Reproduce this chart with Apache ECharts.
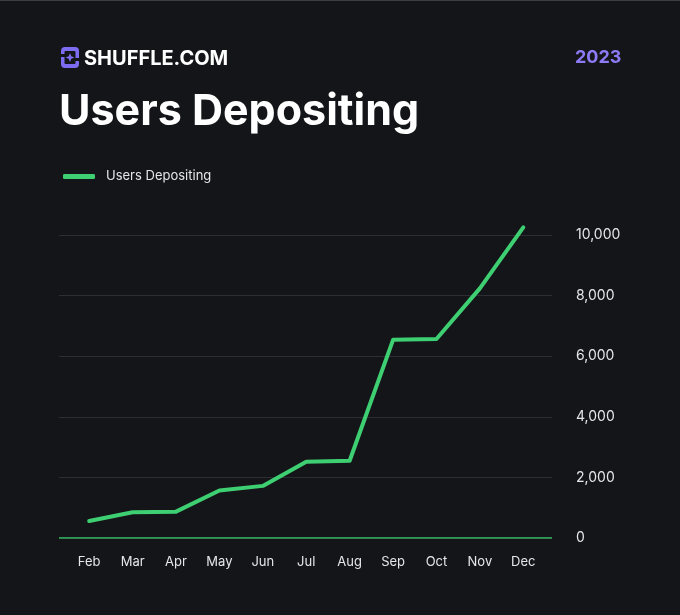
<!DOCTYPE html>
<html>
<head>
<meta charset="utf-8">
<style>
  html, body { margin: 0; padding: 0; background: #141519; }
  #chart { width: 680px; height: 615px; }
</style>
<script src="https://cdn.jsdelivr.net/npm/echarts@6/dist/echarts.min.js"></script>
</head>
<body>
<div id="chart"></div>
<script>
// data
var months = ['Feb', 'Mar', 'Apr', 'May', 'Jun', 'Jul', 'Aug', 'Sep', 'Oct', 'Nov', 'Dec'];
var usersDepositing = [560, 850, 870, 1570, 1720, 2520, 2550, 6540, 6570, 8240, 10250];
var yTicks = [0, 2000, 4000, 6000, 8000, 10000];

var myChart = echarts.init(document.getElementById('chart'));

// plot area: 0 at y=538, 10,000 at y=235
var plotTop = 235, plotBottom = 77;
var pxPerUnit = (615 - plotBottom - plotTop) / yTicks[yTicks.length - 1];
var extraPx = 15; // room above the top tick so the last point is not cut

var option = {
  backgroundColor: '#141519',
  textStyle: { fontFamily: 'Inter' },
  legend: {
    left: 58,
    top: 165,
    itemWidth: 32,
    itemHeight: 5,
    icon: 'roundRect',
    data: ['Users Depositing'],
    textStyle: { color: '#e6e6e8', fontSize: 13, padding: [0, 0, 0, 6] }
  },
  graphic: [
    // thin top border
    { type: 'rect', shape: { x: 0, y: 0, width: 680, height: 1 }, style: { fill: '#3c3d42' } },
    // logo mark
    { type: 'rect', shape: { x: 61, y: 47, width: 18, height: 21, r: 4 }, style: { fill: '#7b6cf0' } },
    { type: 'rect', shape: { x: 64.5, y: 51, width: 11, height: 13, r: 1 }, style: { fill: '#141519' } },
    { type: 'rect', shape: { x: 61, y: 54, width: 4, height: 3 }, style: { fill: '#141519' } },
    { type: 'rect', shape: { x: 75, y: 58, width: 4, height: 3 }, style: { fill: '#141519' } },
    { type: 'polygon', shape: { points: [[70, 53], [71.3, 56.2], [74.5, 57.5], [71.3, 58.8], [70, 62], [68.7, 58.8], [65.5, 57.5], [68.7, 56.2]] }, style: { fill: '#7b6cf0' } },
    {
      type: 'text', left: 84, top: 49,
      style: { text: 'SHUFFLE.COM', fill: '#ffffff', font: 'bold 20px Inter' }
    },
    {
      type: 'text', left: 575, top: 49,
      style: { text: '2023', fill: '#8b7cf6', font: 'bold 18px Inter' }
    },
    {
      type: 'text', left: 59, top: 91,
      style: { text: 'Users Depositing', fill: '#ffffff', font: 'bold 43px Inter' }
    }
  ],
  grid: [
    { left: 59, right: 128, top: plotTop, bottom: plotBottom },
    { left: 67.5, right: 135, top: plotTop - extraPx, bottom: plotBottom }
  ],
  xAxis: [
    { gridIndex: 0, type: 'value', show: false, min: 0, max: 1 },
    {
      gridIndex: 1,
      type: 'category',
      data: months,
      boundaryGap: true,
      axisLine: { show: false },
      axisTick: { show: false },
      axisLabel: { color: '#e6e6e8', fontSize: 13, margin: 18 }
    }
  ],
  yAxis: [
    {
      gridIndex: 0,
      type: 'value',
      position: 'right',
      min: yTicks[0],
      max: yTicks[yTicks.length - 1],
      interval: 2000,
      axisLine: { show: false },
      axisTick: { show: false },
      splitLine: { lineStyle: { color: '#2d2e33', width: 1 } },
      axisLabel: {
        color: '#e6e6e8', fontSize: 14, margin: 24, align: 'left',
        formatter: function (v) { return v.toLocaleString('en-US'); }
      }
    },
    {
      gridIndex: 1,
      type: 'value',
      min: 0,
      max: yTicks[yTicks.length - 1] + extraPx / pxPerUnit,
      show: false
    }
  ],
  series: [
    {
      // green baseline across the wide grid
      type: 'line',
      xAxisIndex: 0,
      yAxisIndex: 0,
      data: [[0, 0], [1, 0]],
      symbol: 'none',
      silent: true,
      clip: false,
      z: 5,
      lineStyle: { color: '#38c468', width: 1.3 }
    },
    {
      name: 'Users Depositing',
      type: 'line',
      xAxisIndex: 1,
      yAxisIndex: 1,
      data: usersDepositing,
      symbol: 'none',
      clip: false,
      z: 6,
      color: '#3ecf72',
      lineStyle: { color: '#3ecf72', width: 4, cap: 'round', join: 'round' }
    }
  ]
};

myChart.setOption(option);
</script>
</body>
</html>
